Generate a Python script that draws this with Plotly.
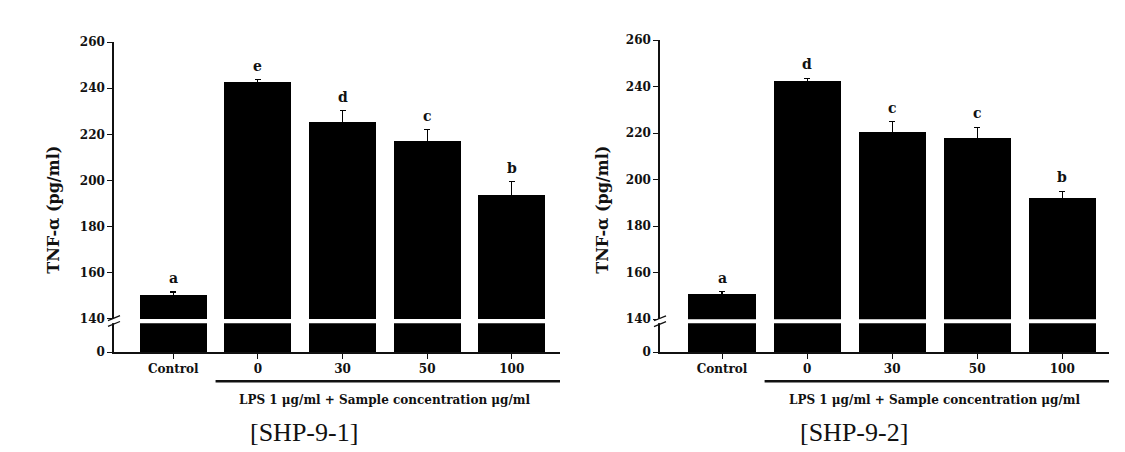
import plotly.graph_objects as go

# ---------------- data ----------------
categories = ["Control", "0", "30", "50", "100"]

shp1_mean = [150.3, 242.6, 225.4, 217.1, 193.6]
shp1_err = [1.4, 1.1, 4.8, 5.0, 5.8]
shp1_letters = ["a", "e", "d", "c", "b"]

shp2_mean = [150.6, 242.4, 220.4, 218.0, 192.0]
shp2_err = [1.3, 1.3, 4.6, 4.6, 3.1]
shp2_letters = ["a", "d", "c", "c", "b"]

upper_ticks = [140, 160, 180, 200, 220, 240, 260]
lower_ticks = [0]

y_title = "TNF-α (pg/ml)"
x_group_label = "LPS 1 μg/ml + Sample concentration μg/ml"
captions = ["[SHP-9-1]", "[SHP-9-2]"]

# ---------------- layout helpers ----------------
W, H = 1125, 452


def fx(px):
    return px / W


def fy(py):
    return 1 - py / H


SERIF = "DejaVu Serif"
INK = "#111111"

panels = [
    dict(mean=shp1_mean, err=shp1_err, letters=shp1_letters, caption=captions[0],
         xpx=(106, 552), upx=(313.6, 28), lpx=(348, 318), xr=(-0.7, 4.57),
         title_x=46, cap_x=296, xa="x", ya_up="y", ya_lo="y2"),
    dict(mean=shp2_mean, err=shp2_err, letters=shp2_letters, caption=captions[1],
         xpx=(652, 1101), upx=(314, 26), lpx=(348, 318), xr=(-0.73, 4.55),
         title_x=595, cap_x=846, xa="x2", ya_up="y3", ya_lo="y4"),
]

fig = go.Figure()
annotations = []
shapes = []
layout_axes = {}

for p in panels:
    # upper segment (with error bars)
    fig.add_trace(go.Bar(
        x=categories, y=p["mean"], xaxis=p["xa"], yaxis=p["ya_up"],
        marker=dict(color="black", line=dict(width=0)), width=0.79,
        error_y=dict(type="data", array=p["err"], symmetric=True,
                     color="black", thickness=1.2, width=3),
        showlegend=False, hoverinfo="x+y",
    ))
    # lower segment (below the axis break)
    fig.add_trace(go.Bar(
        x=categories, y=p["mean"], xaxis=p["xa"], yaxis=p["ya_lo"],
        marker=dict(color="black", line=dict(width=0)), width=0.79,
        showlegend=False, hoverinfo="skip",
    ))

    xkey = "xaxis" + p["xa"][1:]
    upkey = "yaxis" + p["ya_up"][1:]
    lokey = "yaxis" + p["ya_lo"][1:]

    layout_axes[xkey] = dict(
        domain=[fx(p["xpx"][0]), fx(p["xpx"][1])], anchor=p["ya_lo"],
        type="category", range=list(p["xr"]), showline=True, linecolor=INK,
        linewidth=1.5, ticks="outside", ticklen=5, tickwidth=1.2, tickcolor=INK,
        showgrid=False, zeroline=False,
        tickfont=dict(family=SERIF, size=12, color=INK, weight="bold"),
    )
    layout_axes[upkey] = dict(
        domain=[fy(p["upx"][0]), fy(p["upx"][1])], anchor=p["xa"],
        range=[upper_ticks[0], upper_ticks[-1]], tickvals=upper_ticks,
        showline=True, linecolor=INK, linewidth=1.5, ticks="outside",
        ticklen=5, tickwidth=1.2, tickcolor=INK, showgrid=False, zeroline=False,
        tickfont=dict(family=SERIF, size=12, color=INK, weight="bold"),
    )
    layout_axes[lokey] = dict(
        domain=[fy(p["lpx"][0]), fy(p["lpx"][1])], anchor=p["xa"],
        range=[0, upper_ticks[0]], tickvals=lower_ticks,
        showline=True, linecolor=INK, linewidth=1.5, ticks="outside",
        ticklen=5, tickwidth=1.2, tickcolor=INK, showgrid=False, zeroline=False,
        tickfont=dict(family=SERIF, size=12, color=INK, weight="bold"),
    )

    # significance letters (category index positions)
    for i, (m, e, L) in enumerate(zip(p["mean"], p["err"], p["letters"])):
        annotations.append(dict(
            x=i, y=m + e, xref=p["xa"], yref=p["ya_up"], text=L, showarrow=False,
            yanchor="middle", yshift=14,
            font=dict(family=SERIF, size=14, color=INK, weight="bold"),
        ))

    # y-axis title
    annotations.append(dict(
        x=fx(p["title_x"]), y=fy(201), xref="paper", yref="paper", text=y_title,
        textangle=-90, showarrow=False, xanchor="center", yanchor="middle",
        font=dict(family=SERIF, size=16, color=INK, weight="bold"),
    ))

    # group bracket line and label
    shapes.append(dict(
        type="line", xref=p["xa"], yref="paper", x0=0.5, x1=p["xr"][1],
        y0=fy(378), y1=fy(378), line=dict(color=INK, width=2.5),
    ))
    annotations.append(dict(
        x=2.5, y=fy(397), xref=p["xa"], yref="paper", text=x_group_label,
        showarrow=False, xanchor="center", yanchor="middle",
        font=dict(family=SERIF, size=12, color=INK, weight="bold"),
    ))

    # caption
    annotations.append(dict(
        x=fx(p["cap_x"]), y=fy(431), xref="paper", yref="paper", text=p["caption"],
        showarrow=False, xanchor="center", yanchor="middle",
        font=dict(family="Liberation Serif", size=26, color="#111111"),
    ))

    # axis break mark (two slanted strokes)
    ax = p["xpx"][0]
    by = (p["upx"][0] + p["lpx"][1]) / 2
    shapes.append(dict(
        type="rect", xref="paper", yref="paper",
        x0=fx(ax - 2), x1=fx(ax + 2), y0=fy(p["upx"][0]), y1=fy(p["lpx"][1]),
        fillcolor="white", line=dict(width=0), layer="above",
    ))
    for dy in (-3, 3):
        shapes.append(dict(
            type="line", xref="paper", yref="paper",
            x0=fx(ax - 6), y0=fy(by + dy + 2.5), x1=fx(ax + 6), y1=fy(by + dy - 2.5),
            line=dict(color=INK, width=1.3), layer="above",
        ))

fig.update_layout(
    width=W, height=H, margin=dict(l=0, r=0, t=0, b=0),
    paper_bgcolor="white", plot_bgcolor="white", bargap=0,
    annotations=annotations, shapes=shapes, showlegend=False,
    **layout_axes,
)

fig.write_html("out.html")
